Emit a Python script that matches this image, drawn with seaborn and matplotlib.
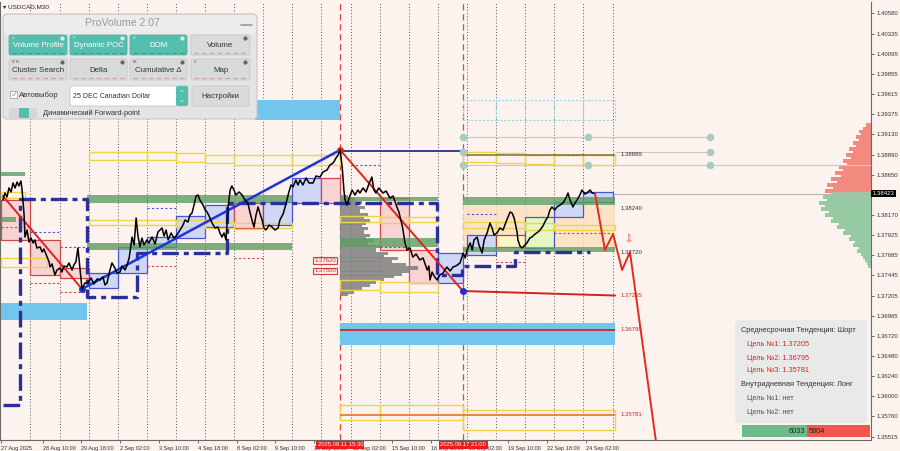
import matplotlib
matplotlib.use("Agg")
import matplotlib.pyplot as plt
from matplotlib.patches import Rectangle, FancyBboxPatch
from matplotlib.transforms import blended_transform_factory
import seaborn as sns

sns.set_style("white")
plt.rcParams['font.family'] = ['DejaVu Sans']

# ---------------- data ----------------
# time in trading days since 27 Aug 2025 00:00 (M30 chart, weekends skipped)
price_time = [0.05,0.12,0.19,0.26,0.33,0.40,0.47,0.54,0.60,0.67,0.71,0.74,0.78,0.81,0.88,0.95,1.02,1.09,1.15,1.22,
              1.33,1.40,1.46,1.57,1.64,1.67,1.74,1.84,1.91,2.01,2.08,2.15,2.25,2.32,2.43,2.49,2.56,2.63,2.70,2.77,
              2.87,2.98,3.08,3.18,3.29,3.39,3.49,3.56,3.63,3.73,3.80,3.90,3.97,4.08,4.14,4.25,4.32,4.39,4.49,4.56,
              4.63,4.69,4.76,4.83,4.90,5.00,
              5.07,5.18,5.28,5.38,5.52,5.59,5.66,5.73,5.83,5.93,6.03,6.14,6.24,6.31,6.41,6.48,6.55,6.62,6.69,6.76,
              6.82,6.93,7.00,7.07,7.17,7.24,7.34,7.44,7.51,7.58,7.65,7.72,7.79,7.86,7.92,7.99,8.06,8.17,8.27,8.37,
              8.47,8.54,8.61,8.68,8.75,8.82,8.89,8.96,9.02,9.09,9.20,9.30,9.40,9.51,9.57,9.68,9.75,9.81,9.88,9.95,
              10.02,10.12,10.19,10.26,10.36,10.47,10.57,10.71,10.81,10.95,11.05,11.19,11.29,11.40,11.50,11.57,11.64,
              11.71,11.77,11.81,11.88,11.95,12.05,12.15,12.25,12.32,12.43,12.53,12.63,12.73,12.80,12.87,12.97,13.11,
              13.22,13.35,13.46,13.59,13.66,13.70,13.77,13.80,13.87,13.94,14.04,14.14,14.25,14.38,14.49,14.63,14.69,
              14.73,14.80,14.87,14.97,15.07,15.18,15.24,15.31,15.42,15.52,15.62,15.76,15.87,15.94,
              16.00,16.11,16.18,16.24,16.35,16.41,16.52,16.59,16.69,16.79,16.86,16.93,17.03,17.13,17.24,17.34,17.41,
              17.48,17.55,17.62,17.65,17.72,17.75,17.82,17.89,17.99,18.06,18.16,18.23,18.34,18.44,18.51,18.61,18.71,
              18.78,18.85,18.92,19.02,19.09,19.20,19.30,19.40,19.47,19.54,19.64,19.71,19.78,19.88,19.95,20.05,20.12,
              20.23,20.30,20.40]
price_close = [1.38346,1.38430,1.38382,1.38490,1.38442,1.38550,1.38490,1.38561,1.38514,1.38573,
               1.38466,1.38346,1.38167,1.37904,1.37988,1.37845,1.37892,1.37833,1.37869,1.37773,
               1.37785,1.37725,1.37761,1.37665,1.37606,1.37546,1.37582,1.37451,1.37510,1.37534,
               1.37486,1.37558,1.37546,1.37594,1.37510,1.37570,1.37606,1.37773,1.37534,1.37283,
               1.37355,1.37355,1.37415,1.37343,1.37403,1.37391,1.37427,1.37331,1.37355,1.37510,
               1.37594,1.37534,1.37474,1.37486,1.37558,1.37510,1.37570,1.37654,1.37904,1.37809,
               1.38131,1.37928,1.37785,1.37892,1.37809,1.37869,
               1.37833,1.37904,1.37821,1.37964,1.38012,1.37916,1.37988,1.37869,1.37952,1.37892,
               1.37928,1.37988,1.38047,1.38107,1.38083,1.38167,1.38191,1.38287,1.38394,1.38406,
               1.38346,1.38287,1.38227,1.38203,1.38131,1.38071,1.38012,1.38024,1.37952,1.37904,
               1.37952,1.37869,1.38263,1.38466,1.38514,1.38466,1.38406,1.38442,1.38406,1.38346,
               1.38311,1.38203,1.38107,1.38024,1.38167,1.38263,1.38179,1.38107,1.38012,1.37988,
               1.38047,1.38024,1.37988,1.38012,1.38107,1.38179,1.38263,1.38346,1.38442,1.38526,
               1.38502,1.38585,1.38526,1.38585,1.38526,1.38609,1.38550,1.38550,1.38633,1.38621,
               1.38681,1.38705,1.38765,1.38788,1.38848,1.38884,1.38944,
               1.38741,1.38466,1.38346,1.38287,1.38370,1.38466,1.38406,1.38466,1.38430,1.38490,
               1.38442,1.38538,1.38621,1.38466,1.38430,1.38490,1.38430,1.38454,1.38370,1.38394,
               1.38263,1.38203,1.38143,1.38047,1.37988,1.37833,1.37749,1.37773,1.37665,1.37701,
               1.37630,1.37654,1.37510,1.37558,1.37391,1.37486,1.37439,1.37391,1.37451,1.37474,
               1.37510,1.37546,1.37498,1.37546,1.37558,1.37594,1.37713,1.37654,
               1.37749,1.37833,1.37749,1.37869,1.37904,1.37809,1.37713,1.37869,1.37952,1.38071,
               1.38012,1.37928,1.37952,1.38012,1.37988,1.38083,1.38143,1.38203,1.38191,1.38131,
               1.38083,1.37964,1.37869,1.37797,1.37773,1.37809,1.37833,1.37892,1.37904,1.37940,
               1.37964,1.37988,1.38036,1.38107,1.38143,1.38227,1.38263,1.38227,1.38263,1.38287,
               1.38311,1.38370,1.38430,1.38346,1.38263,1.38311,1.38346,1.38406,1.38466,1.38418,
               1.38430,1.38466,1.38430,1.38423]

forecast_time = [20.40, 20.74, 21.02, 21.33, 21.60, 22.51]
forecast_price = [1.38423, 1.37749, 1.37940, 1.37510, 1.37725, 1.35420]

current_price = 1.38423

# zigzag trend lines
red_trend1_t, red_trend1_p = [0.05, 2.77], [1.38394, 1.37283]
blue_trend_t, blue_trend_p = [2.77, 11.64], [1.37283, 1.38944]
red_trend2_t, red_trend2_p = [11.64, 15.86], [1.38944, 1.37259]

# dynamic POC (step line)
poc_time = [0.05, 0.64, 2.94, 4.66, 7.75, 14.97, 15.83, 17.65, 20.23]
poc_price = [1.35897, 1.38358, 1.37188, 1.37713, 1.38311, 1.37451, 1.37558, 1.37725, 1.37725]

# day value-area boxes: start, end, top, bottom, kind
box_t0 = [0, 1, 2, 3, 4, 5, 6, 7, 8, 9, 10, 11, 13, 14, 15, 16, 17, 18, 19, 20]
box_t1 = [1, 2, 3, 4, 5, 6, 7, 8, 9, 10, 11, 11.64, 14, 15, 15.87, 17, 18, 19, 20, 21]
box_top = [1.38346, 1.37869, 1.37534, 1.37474, 1.37785, 1.37904, 1.38155, 1.38287, 1.38311, 1.38322,
           1.38609, 1.38609, 1.38370, 1.37749, 1.37713, 1.37928, 1.37928, 1.38143, 1.38322, 1.38442]
box_bot = [1.37869, 1.37451, 1.37415, 1.37295, 1.37474, 1.37785, 1.37892, 1.38024, 1.38012, 1.38047,
           1.38311, 1.38311, 1.37749, 1.37355, 1.37355, 1.37689, 1.37785, 1.37773, 1.38143, 1.38322]
box_kind = ['red', 'red', 'red', 'blue', 'blue', 'blue', 'blue', 'blue', 'red', 'blue',
            'blue', 'red', 'red', 'red', 'blue', 'blue', 'yellow', 'lime', 'blue', 'blue']

# yellow outline boxes
ybox_t0 = [0, 0, 3, 5, 6, 7, 8, 10, 15.87, 17, 18, 19, 20,
           3, 5, 6, 7, 8, 9, 11.64, 13, 14, 15.87, 17, 18, 19,
           11.64, 13, 14, 11.64, 13, 15.87]
ybox_t1 = [0.81, 1.57, 5, 6, 7, 8, 10, 11.64, 17, 18, 19, 20, 21.09,
           5, 6, 7, 8, 9, 10, 13, 14, 15, 17, 18, 19, 21.09,
           13, 14, 15, 13, 15.87, 21.09]
ybox_top = [1.38442, 1.37654, 1.38920, 1.38920, 1.38908, 1.38884, 1.38884, 1.38884, 1.38920, 1.38908, 1.38884, 1.38884, 1.38884,
            1.38107, 1.38107, 1.38107, 1.38083, 1.38071, 1.38071, 1.38155, 1.38143, 1.38143, 1.38083, 1.38083, 1.38071, 1.38047,
            1.37391, 1.37367, 1.37355, 1.35897, 1.35897, 1.35838]
ybox_bot = [1.38370, 1.37546, 1.38824, 1.38824, 1.38800, 1.38788, 1.38765, 1.38765, 1.38800, 1.38788, 1.38776, 1.38765, 1.38765,
            1.38047, 1.38047, 1.38024, 1.38012, 1.38000, 1.38012, 1.38083, 1.38071, 1.38083, 1.38012, 1.38012, 1.37988, 1.37988,
            1.37271, 1.37247, 1.37247, 1.35718, 1.35718, 1.35599]

# green POC bands
gband_t0 = [0, 0, 2.94, 2.94, 11.64, 11.64, 15.87, 15.87]
gband_t1 = [0.81, 0.5, 10.0, 10.0, 15.0, 15.0, 21.09, 21.09]
gband_top = [1.38681, 1.38143, 1.38406, 1.37833, 1.38382, 1.37892, 1.38382, 1.37785]
gband_bot = [1.38633, 1.38083, 1.38311, 1.37749, 1.38334, 1.37785, 1.38287, 1.37725]

# cyan zones
cyan_t0 = [-0.05, 11.64, 8.71]
cyan_t1 = [2.94, 21.09, 11.64]
cyan_top = [1.37116, 1.36877, 1.39541]
cyan_bot = [1.36913, 1.36614, 1.39302]

# key levels
level_values = [1.38889, 1.38240, 1.37720, 1.37205, 1.36795, 1.35781]
level_colors = ['#333333', '#333333', '#333333', '#e0231f', '#e0231f', '#e0231f']

# period volume profile (11 Sep 15:30 .. 17 Sep 21:00)
vp_levels = [1.38394, 1.38358, 1.38322, 1.38287, 1.38251, 1.38215, 1.38179, 1.38143, 1.38107, 1.38071,
             1.38036, 1.38000, 1.37964, 1.37928, 1.37892, 1.37857, 1.37821, 1.37785, 1.37749, 1.37713,
             1.37677, 1.37642, 1.37606, 1.37570, 1.37534, 1.37498, 1.37462, 1.37427, 1.37391, 1.37355,
             1.37319, 1.37283, 1.37247, 1.37212]
vp_volume = [8, 15, 22, 18, 25, 20, 28, 24, 30, 26, 22, 28, 24, 30, 26, 34, 28, 40, 36, 48,
             44, 58, 52, 66, 78, 70, 62, 54, 44, 36, 30, 22, 14, 8]

# right-hand (DOM) profile
rp_sell_levels = [1.39242, 1.39206, 1.39170, 1.39134, 1.39099, 1.39063, 1.39027, 1.38991, 1.38956, 1.38920,
                  1.38884, 1.38848, 1.38812, 1.38776, 1.38741, 1.38705, 1.38669, 1.38633, 1.38597, 1.38561,
                  1.38526, 1.38490, 1.38454]
rp_sell_volume = [5, 8, 12, 10, 15, 12, 18, 15, 22, 18, 25, 20, 28, 24, 32, 28, 36, 30, 40, 34, 44, 38, 46]
rp_buy_levels = [1.38418, 1.38382, 1.38346, 1.38311, 1.38275, 1.38239, 1.38203, 1.38167, 1.38131, 1.38095,
                 1.38060, 1.38024, 1.37988, 1.37952, 1.37916, 1.37881, 1.37845, 1.37809, 1.37773, 1.37737,
                 1.37701, 1.37665, 1.37630, 1.37594, 1.37558]
rp_buy_volume = [40, 48, 44, 52, 46, 50, 42, 46, 38, 40, 32, 34, 26, 28, 20, 22, 16, 18, 12, 14, 10, 8, 6, 4, 3]

x_tick_pos = [0.0, 1.417, 2.75, 4.083, 5.417, 6.75, 8.083, 9.417, 10.75, 12.083, 13.417, 14.75,
              16.083, 17.417, 18.75, 20.083]
x_tick_labels = ["27 Aug 2025", "28 Aug 10:00", "29 Aug 18:00", "2 Sep 02:00", "3 Sep 10:00", "4 Sep 18:00",
                 "8 Sep 02:00", "9 Sep 10:00", "10 Sep 18:00", "12 Sep 02:00", "15 Sep 10:00", "16 Sep 18:00",
                 "18 Sep 02:00", "19 Sep 10:00", "22 Sep 18:00", "24 Sep 02:00"]
y_ticks = [1.40580, 1.40335, 1.40095, 1.39855, 1.39615, 1.39375, 1.39130, 1.38890, 1.38650, 1.38170,
           1.37925, 1.37685, 1.37445, 1.37205, 1.36965, 1.36720, 1.36480, 1.36240, 1.36000, 1.35760, 1.35515]
period_marks = [11.646, 15.875]
period_labels = ["2025.09.11 15:30", "2025.09.17 21:00"]
day_breaks = list(range(1, 22))

# ---------------- figure ----------------
BG = '#fcf3ee'
RED = '#e0231f'
UI = ['Liberation Sans', 'DejaVu Sans']
fig = plt.figure(figsize=(9.0, 4.51), dpi=100)
fig.patch.set_facecolor(BG)
ax = fig.add_axes([0.0, 11 / 451, 871 / 900, 438 / 451])
ax.set_facecolor(BG)
XR = 29.883
ax.set_xlim(-0.048, XR)
ax.set_ylim(1.35479, 1.40712)


def rect(t0, t1, top, bot, **kw):
    ax.add_patch(Rectangle((t0, bot), t1 - t0, top - bot, **kw))


# day separators
for d in day_breaks:
    ax.axvline(d, color='#555555', ls=(0, (1, 2.2)), lw=0.7, zorder=1)
for t in period_marks:
    ax.axvline(t, color='#e04040', ls=(0, (5, 3)), lw=0.9, zorder=2)

# zones
for t0, t1, top, bot in zip(cyan_t0, cyan_t1, cyan_top, cyan_bot):
    rect(t0, t1, top, bot, fc='#72c6ee', ec='none', zorder=2)
rect(15.87, 21.09, 1.38287, 1.37785, fc='#fde1c2', ec='none', alpha=0.85, zorder=2)

kind_style = {'red': ('#f8d3d3', '#d04848'), 'blue': ('#cfd6f6', '#4a55d0'),
              'yellow': ('#fbf6c6', '#b04040'), 'lime': ('#e4f6c2', '#4a55d0')}
for t0, t1, top, bot, k in zip(box_t0, box_t1, box_top, box_bot, box_kind):
    fc, ec = kind_style[k]
    rect(t0, t1, top, bot, fc=fc, ec=ec, lw=0.9, zorder=3)

for t0, t1, top, bot in zip(gband_t0, gband_t1, gband_top, gband_bot):
    rect(t0, t1, top, bot, fc='#5e9e62', ec='none', alpha=0.8, zorder=3.5)

for t0, t1, top, bot in zip(ybox_t0, ybox_t1, ybox_top, ybox_bot):
    rect(t0, t1, top, bot, fc='none', ec='#eed44a', lw=1.0, zorder=3.6)

# cyan dashed boxes at top right
for t0, t1 in [(15.87, 17), (17, 18), (18, 19), (19, 20), (20, 21.09)]:
    rect(t0, t1, 1.39541, 1.39302, fc='none', ec='#9fd6e0', lw=0.8, ls=(0, (2, 1.5)), zorder=3)

# period volume profile (gray histogram)
ax.barh(vp_levels, [v / 29.1 for v in vp_volume], left=period_marks[0], height=0.00036,
        color='#858585', alpha=0.9, zorder=3.2, linewidth=0)

# right DOM profile
ax.barh(rp_sell_levels, [v / 29.1 for v in rp_sell_volume],
        left=[XR - v / 29.1 for v in rp_sell_volume], height=0.00037, color='#f38a80', linewidth=0, zorder=2)
ax.barh(rp_buy_levels, [v / 29.1 for v in rp_buy_volume],
        left=[XR - v / 29.1 for v in rp_buy_volume], height=0.00037, color='#96caa3', linewidth=0, zorder=2)

# horizontal levels
ax.hlines(1.38932, 11.64, 15.87, color='#26308a', lw=1.3, zorder=4)
ax.hlines(1.38889, 15.87, 21.09, color='#8a7a3a', lw=1.2, zorder=4)
ax.plot([15.86, 21.09], [1.37259, 1.37205], color='#d42020', lw=1.4, zorder=4)
ax.hlines(1.36795, 11.64, 21.09, color='#d42020', lw=1.3, zorder=4)
ax.hlines(1.35781, 11.64, 21.09, color='#e8702a', lw=1.2, zorder=4)
ax.hlines(1.39099, 15.87, 24.35, color='#c8c8c8', lw=0.8, zorder=2)
ax.hlines(1.38920, 21.09, 24.35, color='#c8c8c8', lw=0.8, zorder=2)
ax.hlines(1.38765, 15.87, XR, color='#c8c8c8', lw=0.8, zorder=2)
ax.hlines(current_price, 20.40, XR, color='#b5b5b5', lw=0.8, zorder=2)
for (t, p) in [(15.87, 1.39099), (20.16, 1.39099), (24.35, 1.39099), (15.87, 1.38920), (24.35, 1.38920),
               (15.87, 1.38765), (20.16, 1.38765), (24.35, 1.38765)]:
    ax.plot(t, p, 'o', ms=4.5, color='#a9ccc0', zorder=4.2)

# dashed inner lines
for t0, t1, p, c in [(0, 1, 1.38024, '#d04848'), (1, 2, 1.37964, '#4a55d0'), (2, 3, 1.37785, '#4a55d0'),
                     (1, 2, 1.37355, '#d04848'), (2, 3, 1.37247, '#d04848'), (5, 6, 1.38251, '#4a55d0'),
                     (5, 6, 1.37558, '#d04848'), (8, 9, 1.37654, '#d04848'), (12, 13, 1.38770, '#4a55d0'),
                     (13, 14, 1.37785, '#4a55d0'), (16, 17, 1.38179, '#4a55d0'), (19, 20, 1.38880, '#4a55d0'),
                     (17, 18, 1.37606, '#d04848'), (19, 21, 1.37950, '#d04848')]:
    ax.hlines(p, t0, t1, colors=c, lw=0.8, linestyles=(0, (2, 2)), zorder=3.7)

# dynamic POC step line
ax.plot(poc_time, poc_price, drawstyle='steps-post', color='#2b2f9a', lw=2.4,
        ls=(0, (5, 1.5, 1.5, 1.5)), zorder=4.5)

# trend lines
ax.plot(red_trend1_t, red_trend1_p, color=RED, lw=1.4, zorder=5)
ax.plot(red_trend2_t, red_trend2_p, color=RED, lw=1.4, zorder=5)
ax.plot(blue_trend_t, blue_trend_p, color='#1c35d8', lw=1.8, zorder=5)
ax.plot([2.77, 15.86], [1.37283, 1.37259], 'o', ms=4, color='#2030d0', zorder=5.5)
ax.plot([11.64], [1.38944], 'o', ms=4, color=RED, zorder=5.5)

# price and forecast
sns.lineplot(x=price_time, y=price_close, ax=ax, color='black', linewidth=1.1,
             sort=False, estimator=None, zorder=6)
sns.lineplot(x=forecast_time, y=forecast_price, ax=ax, color='#e32a1f', linewidth=1.4,
             sort=False, estimator=None, zorder=6)
ax.text(21.53, 1.37880, '⇩', color='#e04040', fontsize=7, ha='center', va='center', zorder=6)

# level labels
for v, c in zip(level_values, level_colors):
    ax.text(21.26, v, f"{v:.5f}", color=c, fontsize=4.3, va='center', ha='left', zorder=6, family=UI)
for v in [1.37620, 1.37500]:
    ax.text(11.50, v, f"{v:.5f}", color='#d03030', fontsize=4.3, va='center', ha='right', zorder=6, family=UI,
            bbox=dict(fc='#fbeaea', ec='#d04040', lw=0.8, pad=0.6))
    ax.hlines(v, 11.64, 13.0, color='#d86060', lw=0.6, zorder=3.3)

# axes styling
ax.yaxis.tick_right()
ax.set_yticks(y_ticks)
ax.set_yticklabels([f"{v:.5f}" for v in y_ticks], fontsize=4.3, color='#333333', family=UI)
ax.set_xticks(x_tick_pos)
ax.set_xticklabels(x_tick_labels, fontsize=4.0, color='#333333', ha='left', family=UI)
ax.tick_params(axis='y', length=2.5, width=0.6, pad=1.5, color='#555555', right=True, left=False)
ax.tick_params(axis='x', length=2.5, width=0.6, pad=1.5, color='#555555', bottom=True)
ax.spines['top'].set_visible(False)
for s in ['right', 'bottom', 'left']:
    ax.spines[s].set_color('#6a6a6a')
    ax.spines[s].set_linewidth(0.8)
ax.grid(False)
ax.set_xlabel('')
ax.set_ylabel('')

tr = blended_transform_factory(ax.transAxes, ax.transData)
ax.text(1.002, current_price, f"{current_price:.5f}", transform=tr, fontsize=4.3, color='white', family=UI,
        va='center', ha='left', zorder=10, clip_on=False, bbox=dict(fc='black', ec='none', pad=0.9))
for t, lab in zip(period_marks, period_labels):
    ax.text(t, -0.005, lab, transform=ax.get_xaxis_transform(), fontsize=4.2, color='white', family=UI,
            ha='center', va='top', zorder=10, clip_on=False, bbox=dict(fc='#ee1c1c', ec='none', pad=1.0))

# ---------------- overlay (pixel space) ----------------
ov = fig.add_axes([0, 0, 1, 1], zorder=10)
ov.set_xlim(0, 900)
ov.set_ylim(451, 0)
ov.axis('off')
ov.patch.set_alpha(0)


def rbox(x0, y0, x1, y1, fc, ec='none', lw=0.6, r=2.5, alpha=1.0, z=1):
    ov.add_patch(FancyBboxPatch((x0, y0), x1 - x0, y1 - y0, boxstyle=f"round,pad=0,rounding_size={r}",
                                fc=fc, ec=ec, lw=lw, alpha=alpha, zorder=z))


ov.text(3, 7, '▾ USDCAD,M30', fontsize=4.6, color='#222222', va='center', ha='left', family=UI)

# panel
rbox(3, 14, 257, 119, '#e4e4e4', ec='#c8c8c8', lw=0.8, r=4)
rbox(4, 15, 256, 34, '#ececec', r=3, z=1.1)
ov.text(122, 23.5, 'ProVolume 2.07', fontsize=7.6, color='#9a9a9a', ha='center', va='center', family=UI, zorder=3)
ov.plot([241, 252], [25, 25], color='#9a9a9a', lw=1.2, zorder=3)
TEAL = '#55bfae'
btns = [(9, 35, 67, 55, 'Volume Profile', True, 'V'), (70, 35, 127, 55, 'Dynamic POC', True, 'P'),
        (130, 35, 187, 55, 'DOM', True, 'D'), (191, 35, 250, 55, 'Volume', False, ''),
        (9, 59, 67, 80, 'Cluster Search', False, 'B N'), (70, 59, 127, 80, 'Delta', False, ''),
        (130, 59, 187, 80, 'Cumulative Δ', False, 'M'), (191, 59, 250, 80, 'Map', False, 'Σ')]
for x0, y0, x1, y1, lab, on, tag in btns:
    rbox(x0, y0, x1, y1, TEAL if on else '#dadada', ec='#c4c4c4' if not on else '#4aa99a', lw=0.5, r=2, z=2)
    ov.text((x0 + x1) / 2, (y0 + y1) / 2 + 0.8, lab, fontsize=5.7, color='white' if on else '#333333',
            ha='center', va='center', family=UI, zorder=3)
    if tag:
        ov.text(x0 + 3, y0 + 3.2, tag, fontsize=3.0, color='#eeeeee' if on else '#555555',
                ha='left', va='center', family=UI, zorder=3)
    ov.plot([x1 - 5], [y0 + 3.2], 'o', ms=2.0, color='#e8e8e8' if on else '#666666', zorder=3)
    ov.plot([x0 + 3, x1 - 3], [y1 - 2.3, y1 - 2.3], color='#3d9d8f' if on else '#c9a0a0',
            lw=0.8, ls=(0, (4, 3)), zorder=3)

ov.add_patch(Rectangle((10, 91), 7, 7, fc='white', ec='#999999', lw=0.5, zorder=3))
ov.text(10.5, 94, '✓', fontsize=6.5, color=TEAL, ha='left', va='center', zorder=4)
ov.text(19, 95.5, 'Автовыбор', fontsize=5.6, color='#333333', ha='left', va='center', family=UI, zorder=3)
rbox(70, 86, 188, 106, 'white', ec='#bbbbbb', lw=0.5, r=2, z=2)
rbox(176, 86, 188, 106, TEAL, r=2, z=2.2)
ov.text(182, 92, '⌃', fontsize=5, color='white', ha='center', va='center', zorder=3)
ov.text(182, 100, '⌄', fontsize=5, color='white', ha='center', va='center', zorder=3)
ov.text(73, 96, '25 DEC Canadian Dollar', fontsize=5.0, color='#333333', ha='left', va='center', family=UI, zorder=3)
rbox(192, 86, 249, 106, '#dadada', ec='#c4c4c4', lw=0.5, r=2, z=2)
ov.text(220.5, 96, 'Настройки', fontsize=5.6, color='#333333', ha='center', va='center', family=UI, zorder=3)
rbox(9, 108, 37, 118, '#d6d6d6', r=2, z=2)
rbox(19, 108, 29, 118, TEAL, r=1, z=2.2)
ov.text(43, 113.5, 'Динамический Forward-point', fontsize=5.3, color='#333333', ha='left', va='center',
        family=UI, zorder=3)

# info box
rbox(735, 320, 867, 423, '#e9e9e9', ec='none', r=4, alpha=0.95)
info = [(741, 331, 'Среднесрочная Тенденция: Шорт', '#333333'),
        (747, 345, 'Цель №1: 1.37205', RED), (747, 358, 'Цель №2: 1.36795', RED),
        (747, 371, 'Цель №3: 1.35781', RED),
        (741, 385, 'Внутридневная Тенденция: Лонг', '#333333'),
        (747, 398, 'Цель №1: нет', '#555555'), (747, 412, 'Цель №2: нет', '#555555')]
for x, y, s, c in info:
    ov.text(x, y, s, fontsize=5.3, color=c, ha='left', va='center', family=UI, zorder=3)
ov.add_patch(Rectangle((742, 425), 65, 12, fc='#6fba8b', ec='none', zorder=3))
ov.add_patch(Rectangle((807, 425), 63, 12, fc='#f25450', ec='none', zorder=3))
ov.text(805, 431.5, '6033', fontsize=5.3, color='#222222', ha='right', va='center', family=UI, zorder=4)
ov.text(809, 431.5, '5804', fontsize=5.3, color='#222222', ha='left', va='center', family=UI, zorder=4)

fig.savefig('out.png', dpi=100, facecolor=BG)
